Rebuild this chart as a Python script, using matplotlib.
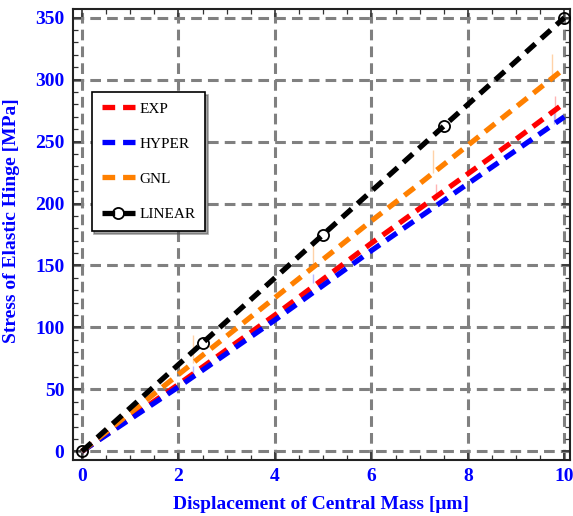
import numpy as np
import matplotlib.pyplot as plt
from matplotlib.ticker import MultipleLocator

# values
x = [0, 1, 2, 3, 4, 5, 6, 7, 8, 9, 10]
exp_vals = [0, 27, 54, 82, 110, 139, 168, 196, 224, 252, 281]
hyper_vals = [0, 26, 52, 79, 106, 134, 162, 189, 216, 243, 270]
gnl_vals = [0, 31, 62, 93, 124, 155, 186, 216, 247, 278, 309]
x_lin = [0, 2.5, 5, 7.5, 10]
lin_vals = [0, 87.5, 175, 262.5, 350]

# faint error bars (x, low, high)
gnl_err_x = [2.3, 4.8, 7.27, 9.75]
gnl_err_lo = [71, 148, 225, 300]
gnl_err_hi = [94, 169, 243, 321]
exp_err_x = [7.33, 9.8]
exp_err_lo = [203, 266]
exp_err_hi = [216, 287]
hyper_err_x = [2.3, 4.8, 9.78]
hyper_err_lo = [60, 136, 264]
hyper_err_hi = [69, 143, 276]

plt.rcParams['font.family'] = ['Liberation Serif', 'DejaVu Serif']

fig = plt.figure(figsize=(5.73, 5.16), dpi=100)
ax = fig.add_axes([0.127, 0.1085, 0.868, 0.874])

ax.grid(True, color='#808080', linestyle=(0, (3.5, 2)), linewidth=2.2, zorder=0)

ax.vlines(gnl_err_x, gnl_err_lo, gnl_err_hi, color='#ffd2a8', lw=1, zorder=1)
ax.vlines(exp_err_x, exp_err_lo, exp_err_hi, color='#ffb4b4', lw=1, zorder=1)
ax.vlines(hyper_err_x, hyper_err_lo, hyper_err_hi, color='#b8b8ff', lw=1, zorder=1)

dash = (0, (2.4, 1.5))
lw = 3.8
ax.plot(x, exp_vals, color='#ff0000', lw=lw, ls=dash, label='EXP', zorder=3)
ax.plot(x, hyper_vals, color='#0000ff', lw=lw, ls=dash, label='HYPER', zorder=3)
ax.plot(x, gnl_vals, color='#ff8000', lw=lw, ls=dash, label='GNL', zorder=3)
ax.plot(x_lin, lin_vals, color='black', lw=lw, ls=dash, marker='o', ms=8,
        mfc='none', mec='black', mew=1.3, label='LINEAR', zorder=4)

ax.set_xlim(-0.19, 10.12)
ax.set_ylim(-7, 357)
ax.xaxis.set_major_locator(MultipleLocator(2))
ax.xaxis.set_minor_locator(MultipleLocator(0.5))
ax.yaxis.set_major_locator(MultipleLocator(50))
ax.yaxis.set_minor_locator(MultipleLocator(10))
ax.tick_params(which='both', direction='in', top=True, right=True,
               color='#333333')
ax.tick_params(which='major', length=6, width=1.2, labelsize=14,
               labelcolor='#0000ff', pad=6)
ax.tick_params(which='minor', length=3.5, width=0.9)
for lab in ax.get_xticklabels() + ax.get_yticklabels():
    lab.set_fontweight('bold')
for sp in ax.spines.values():
    sp.set_linewidth(1.5)
    sp.set_color('#222222')

ax.set_xlabel('Displacement of Central Mass [μm]',
              color='#0000ff', fontweight='bold', fontsize=14, labelpad=8)
ax.set_ylabel('Stress of Elastic Hinge [MPa]', color='#0000ff',
              fontweight='bold', fontsize=14, labelpad=4)
ax.yaxis.set_label_coords(-0.107, 0.53)

leg = ax.legend(loc='upper left', bbox_to_anchor=(0.038, 0.816), fontsize=11,
                handlelength=2.2, labelspacing=1.4, borderpad=0.65,
                handletextpad=0.25, fancybox=False, shadow=True,
                framealpha=1, edgecolor='black', borderaxespad=0)
leg.get_frame().set_linewidth(1.2)

fig.savefig('out.png', dpi=100)
